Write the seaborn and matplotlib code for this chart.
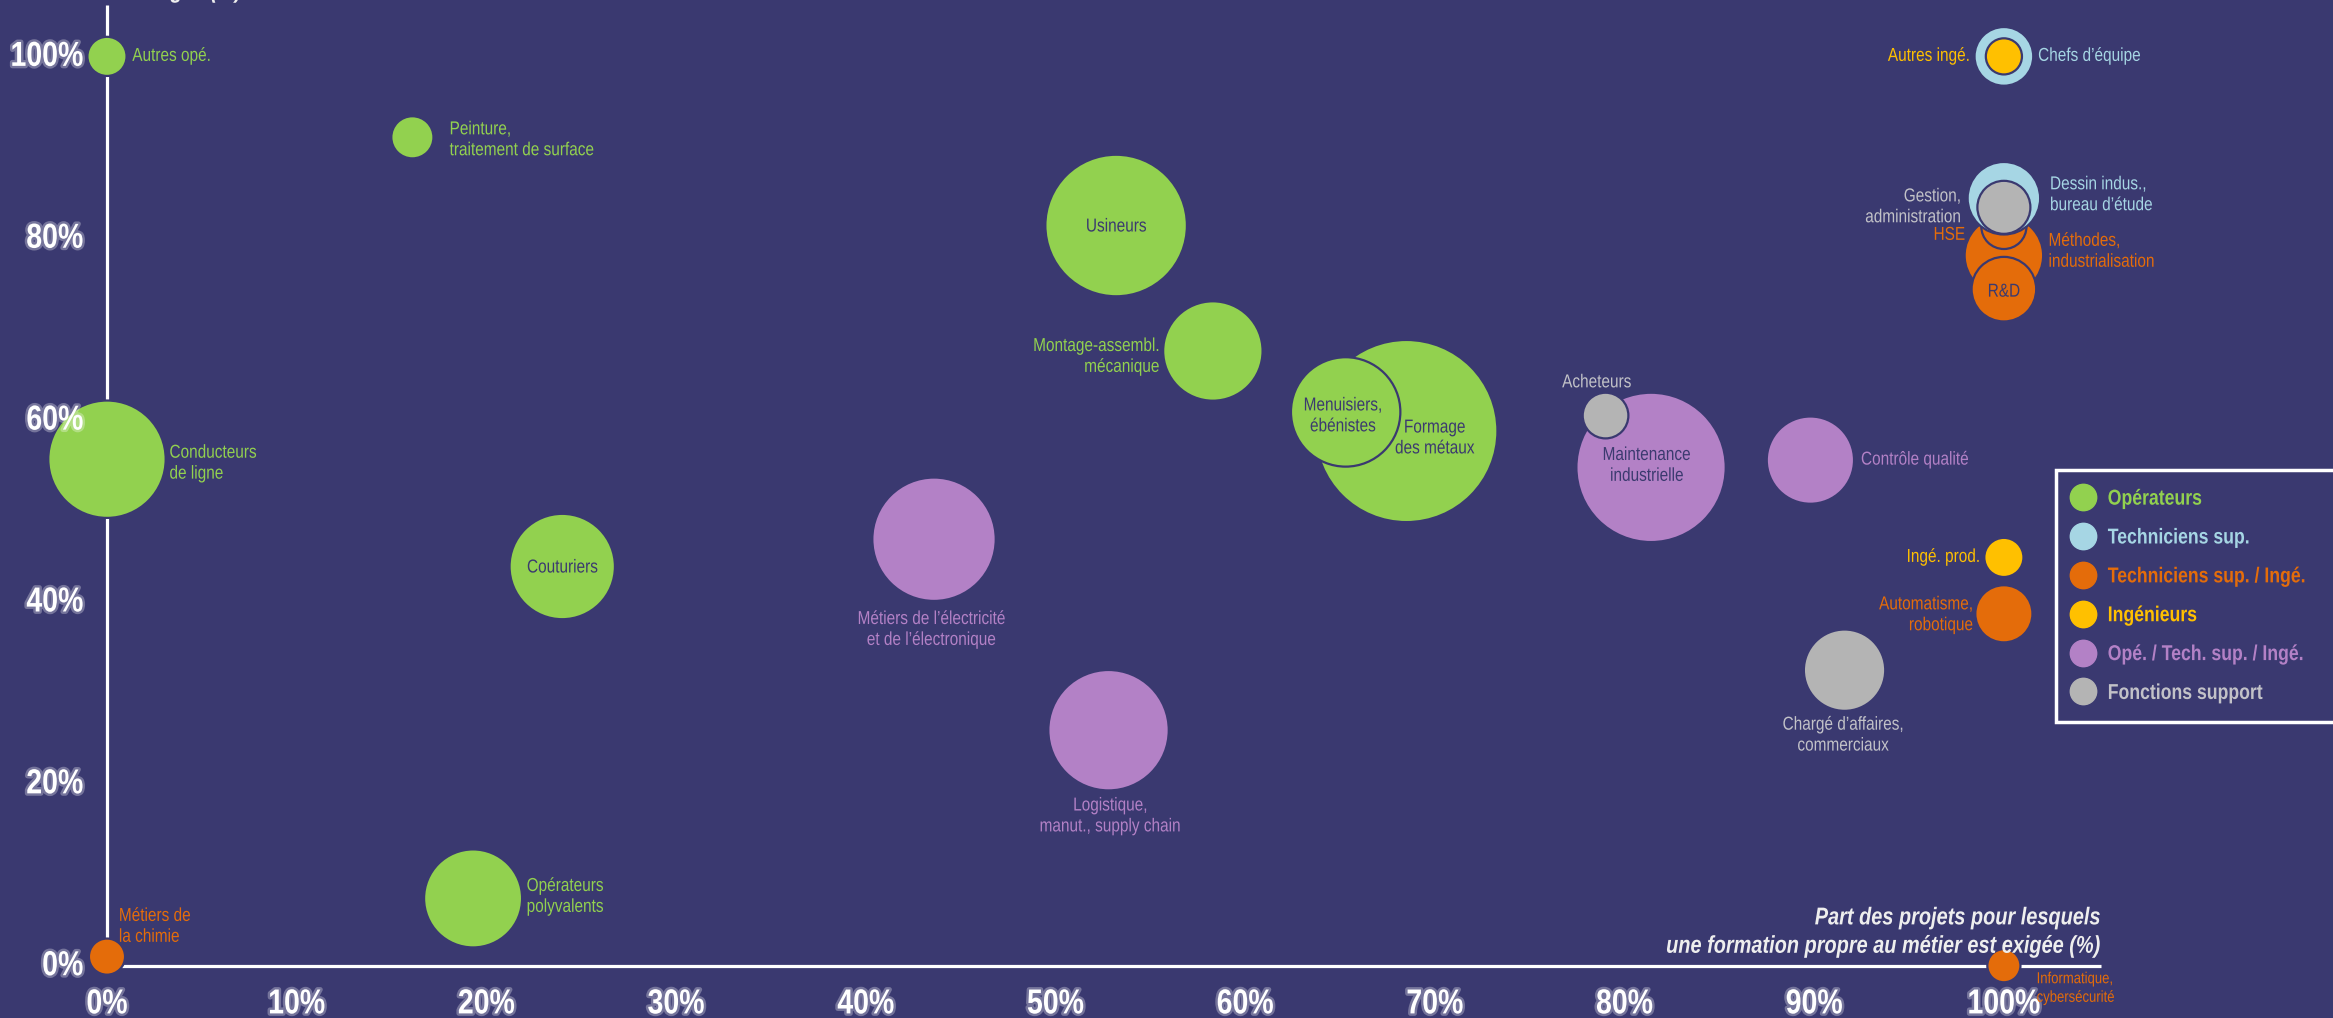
import matplotlib
matplotlib.use("Agg")
import matplotlib.pyplot as plt
import matplotlib.patheffects as pe
from matplotlib.lines import Line2D
from matplotlib.transforms import Affine2D
import pandas as pd
import seaborn as sns

BG = "#3a3970"
NAVY = "#3b3a6f"
FONT = ["Liberation Sans", "DejaVu Sans"]

# data, listed in drawing order (big bubbles first)
jobs = [
    "Formage\ndes métaux", "Maintenance\nindustrielle", "Usineurs",
    "Métiers de l’électricité\net de l’électronique", "Logistique,\nmanut., supply chain",
    "Conducteurs\nde ligne", "Menuisiers,\nébénistes", "Couturiers",
    "Montage-assembl.\nmécanique", "Opérateurs\npolyvalents", "Contrôle qualité",
    "Chargé d’affaires,\ncommerciaux", "Méthodes,\nindustrialisation", "HSE",
    "Dessin indus.,\nbureau d’étude", "R&D", "Chefs d’équipe", "Automatisme,\nrobotique",
    "Gestion,\nadministration", "Acheteurs", "Peinture,\ntraitement de surface",
    "Autres opé.", "Ingé. prod.", "Métiers de\nla chimie", "Autres ingé.",
    "Informatique,\ncybersécurité",
]
x_share = [68.5, 81.4, 53.2, 43.6, 52.8, 0, 65.3, 24.0, 58.3, 19.3, 89.8,
           91.6, 100, 100, 100, 100, 100, 100, 100, 79.0, 16.1, 0, 100, 0, 100, 100]
y_share = [58.8, 54.8, 81.4, 46.9, 25.9, 55.7, 60.9, 43.9, 67.6, 7.4, 55.6,
           32.5, 78.1, 81.3, 84.4, 74.4, 100, 38.7, 83.4, 60.5, 91.1, 100, 44.9, 1.0, 100, 0]
groups = [
    "Opérateurs", "Opé. / Tech. sup. / Ingé.", "Opérateurs", "Opé. / Tech. sup. / Ingé.",
    "Opé. / Tech. sup. / Ingé.", "Opérateurs", "Opérateurs", "Opérateurs", "Opérateurs",
    "Opérateurs", "Opé. / Tech. sup. / Ingé.", "Fonctions support",
    "Techniciens sup. / Ingé.", "Techniciens sup. / Ingé.", "Techniciens sup.",
    "Techniciens sup. / Ingé.", "Techniciens sup.", "Techniciens sup. / Ingé.",
    "Fonctions support", "Fonctions support", "Opérateurs", "Opérateurs", "Ingénieurs",
    "Techniciens sup. / Ingé.", "Ingénieurs", "Techniciens sup. / Ingé.",
]
weight = [36.6, 24.6, 22.1, 16.8, 16.0, 15.2, 13.2, 12.25, 10.9, 10.6, 8.4,
          7.3, 6.8, 2.25, 5.8, 4.6, 3.8, 3.6, 3.1, 2.3, 1.96, 1.69, 1.69, 1.44, 1.44, 1.21]

group_names = ["Opérateurs", "Techniciens sup.", "Techniciens sup. / Ingé.",
               "Ingénieurs", "Opé. / Tech. sup. / Ingé.", "Fonctions support"]
group_colors = ["#92d14f", "#a6d6e4", "#e46c0a", "#ffc000", "#b381c6", "#b4b4b4"]
text_colors = ["#92d14f", "#a6d6e4", "#e46c0a", "#ffc000", "#b381c6", "#c2c2c8"]

x_ticks = [0, 10, 20, 30, 40, 50, 60, 70, 80, 90, 100]
y_ticks = [0, 20, 40, 60, 80, 100]

# label placement: offset from bubble centre (dx right, dy down), alignment, inside bubble
label_pos = {
    "Formage\ndes métaux": (19, 5, "center", True),
    "Maintenance\nindustrielle": (-3, -1, "center", True),
    "Usineurs": (0, 1, "center", True),
    "Métiers de l’électricité\net de l’électronique": (-2, 61, "center", False),
    "Logistique,\nmanut., supply chain": (1, 58, "center", False),
    "Conducteurs\nde ligne": (42, 3, "left", False),
    "Menuisiers,\nébénistes": (-2, 3, "center", True),
    "Couturiers": (0, 1, "center", True),
    "Montage-assembl.\nmécanique": (-36, 4, "right", False),
    "Opérateurs\npolyvalents": (36, -1, "left", False),
    "Contrôle qualité": (34, 0, "left", False),
    "Chargé d’affaires,\ncommerciaux": (-1, 44, "center", False),
    "Méthodes,\nindustrialisation": (30, -2.5, "left", False),
    "HSE": (-26, 6, "right", False),
    "Dessin indus.,\nbureau d’étude": (31, -2, "left", False),
    "R&D": (0, 2, "center", True),
    "Chefs d’équipe": (23, 0, "left", False),
    "Automatisme,\nrobotique": (-21, 1, "right", False),
    "Gestion,\nadministration": (-29, 0, "right", False),
    "Acheteurs": (-6, -22, "center", False),
    "Peinture,\ntraitement de surface": (25, 2, "left", False),
    "Autres opé.": (17, 0, "left", False),
    "Ingé. prod.": (-16, 0, "right", False),
    "Métiers de\nla chimie": (8, -20, "left", False),
    "Autres ingé.": (-23, 0, "right", False),
    "Informatique,\ncybersécurité": (22, 15, "left", False),
}


class Narrow(pe.AbstractPathEffect):
    """squeeze a text horizontally around its anchor (no narrow font installed)"""

    def __init__(self, text, fx=0.82, glow=None):
        super().__init__()
        self.text = text
        self.fx = fx
        self.glow = glow

    def draw_path(self, renderer, gc, tpath, affine, rgbFace=None):
        bb = self.text.get_window_extent()
        ha = self.text.get_horizontalalignment()
        x0 = {"left": bb.x0, "center": 0.5 * (bb.x0 + bb.x1), "right": bb.x1}[ha]
        tr = affine + Affine2D().translate(-x0, 0).scale(self.fx, 1).translate(x0, 0)
        if self.glow is not None:
            gc0 = renderer.new_gc()
            gc0.copy_properties(gc)
            gc0.set_linewidth(self.glow[0])
            gc0.set_foreground(self.glow[1])
            gc0.set_joinstyle("round")
            renderer.draw_path(gc0, tpath, tr)
            gc0.restore()
        renderer.draw_path(gc, tpath, tr, rgbFace)


def narrow(t, **kw):
    t.set_path_effects([Narrow(t, **kw)])
    return t


df = pd.DataFrame({"job": jobs, "x": x_share, "y": y_share, "group": groups, "weight": weight})

sns.set_style("white")
plt.rcParams["font.family"] = FONT

fig = plt.figure(figsize=(23.33, 10.18), dpi=100, facecolor=BG)
ax = fig.add_axes([0, 0, 1, 1])
ax.set_facecolor(BG)
ax.set_xlim(-5.64, 117.35)
ax.set_ylim(-5.75, 106.2)
ax.axis("off")

# axis lines
ax.plot([0, 105.1], [0, 0], color="white", lw=2.3, zorder=1, solid_capstyle="butt")
ax.plot([0, 0], [0, 105.6], color="white", lw=2.3, zorder=1, solid_capstyle="butt")

wmax = max(weight)
sns.scatterplot(data=df, x="x", y="y", hue="group", hue_order=group_names,
                palette=group_colors, size="weight", sizes=(0, 470 * wmax),
                size_norm=(0, wmax), edgecolor=BG, linewidth=1.6,
                alpha=1, legend=False, ax=ax, zorder=3)

colmap = dict(zip(group_names, text_colors))
k = 1.071  # picture px -> points
for _, r in df.iterrows():
    dx, dy, ha, inside = label_pos[r["job"]]
    small = r["job"].startswith("Informatique")
    t = ax.annotate(r["job"], (r["x"], r["y"]), xytext=(dx * k, -dy * k),
                    textcoords="offset points", ha=ha, va="center", multialignment=ha,
                    color=NAVY if inside else colmap[r["group"]],
                    fontsize=11.5 if small else 13.5, linespacing=1.3, zorder=5)
    narrow(t)

glow = (3.5, (1, 1, 1, 0.3))
for v in x_ticks:
    t = ax.text(v, -4.2, f"{v}%", ha="center", va="center", color="white",
                fontsize=25, fontweight="bold")
    narrow(t, glow=glow)
for v in y_ticks:
    t = ax.text(-1.25, v, f"{v}%", ha="right", va="center", color="white",
                fontsize=25, fontweight="bold")
    narrow(t, glow=glow)

t = ax.text(105.1, 3.7, "Part des projets pour lesquels\nune formation propre au métier est exigée (%)",
            ha="right", va="center", multialignment="right", color="#eeeeee",
            fontsize=17.5, fontweight="bold", fontstyle="italic", linespacing=1.3)
narrow(t)
# y title, cut by the top edge
t = ax.text(7.1, 106.45, "Part des projets pour lesquels\nune formation est exigée (%)",
            ha="right", va="baseline", multialignment="right", color="#eeeeee",
            fontsize=17.5, fontweight="bold", fontstyle="italic", linespacing=1.3)
narrow(t)

handles = [Line2D([], [], marker="o", ls="", ms=19, markerfacecolor=c, markeredgecolor=c)
           for c in group_colors]
leg = ax.legend(handles, group_names, loc="upper left", bbox_to_anchor=(0.8813, 0.538),
                bbox_transform=fig.transFigure, borderaxespad=0, frameon=True,
                facecolor=BG, edgecolor="white", framealpha=1, fancybox=False,
                handlelength=0.8, handletextpad=0.75, labelspacing=0.83, borderpad=0.85,
                prop={"family": FONT, "weight": "bold", "size": 15.5},
                labelcolor=text_colors)
leg.get_frame().set_linewidth(2.5)
for t in leg.get_texts():
    narrow(t)

fig.savefig("out.png", dpi=100, facecolor=BG)
